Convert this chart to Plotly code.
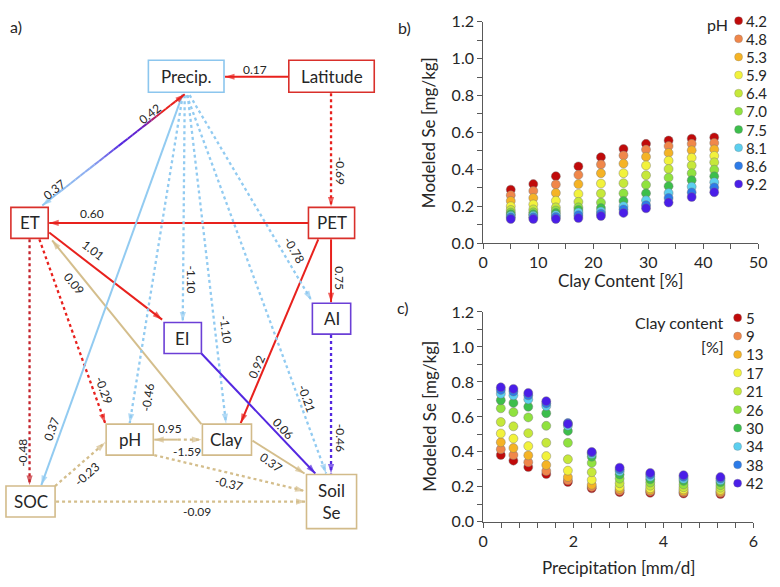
import math
import plotly.graph_objects as go

# ---------------- data: panel b (Se vs clay content, one series per pH) ----------------
clay_x = [5, 9.1, 13.2, 17.3, 21.4, 25.5, 29.6, 33.7, 37.9, 42]
ph_levels = ["4.2", "4.8", "5.3", "5.9", "6.4", "7.0", "7.5", "8.1", "8.6", "9.2"]
se_ph_4_2 = [0.290, 0.320, 0.363, 0.416, 0.466, 0.510, 0.538, 0.556, 0.566, 0.573]
se_ph_4_8 = [0.260, 0.283, 0.318, 0.370, 0.426, 0.475, 0.507, 0.526, 0.538, 0.543]
se_ph_5_3 = [0.229, 0.245, 0.272, 0.320, 0.379, 0.431, 0.468, 0.489, 0.503, 0.508]
se_ph_5_9 = [0.200, 0.210, 0.230, 0.267, 0.323, 0.379, 0.421, 0.447, 0.463, 0.473]
se_ph_6_4 = [0.180, 0.183, 0.194, 0.224, 0.269, 0.325, 0.368, 0.402, 0.421, 0.438]
se_ph_7_0 = [0.166, 0.167, 0.177, 0.194, 0.220, 0.270, 0.316, 0.355, 0.379, 0.398]
se_ph_7_5 = [0.157, 0.157, 0.163, 0.180, 0.190, 0.229, 0.270, 0.309, 0.341, 0.362]
se_ph_8_1 = [0.148, 0.148, 0.152, 0.166, 0.172, 0.200, 0.232, 0.272, 0.306, 0.330]
se_ph_8_6 = [0.140, 0.140, 0.142, 0.152, 0.160, 0.183, 0.206, 0.245, 0.275, 0.302]
se_ph_9_2 = [0.131, 0.131, 0.131, 0.136, 0.147, 0.164, 0.189, 0.220, 0.250, 0.276]
se_by_ph = [se_ph_4_2, se_ph_4_8, se_ph_5_3, se_ph_5_9, se_ph_6_4,
            se_ph_7_0, se_ph_7_5, se_ph_8_1, se_ph_8_6, se_ph_9_2]

# ---------------- data: panel c (Se vs precipitation, one series per clay class) ----------------
precip_x = [0.39, 0.67, 1.0, 1.4, 1.88, 2.41, 3.03, 3.71, 4.45, 5.27]
clay_levels = ["5", "9", "13", "17", "21", "26", "30", "34", "38", "42"]
se_clay_5 = [0.382, 0.350, 0.313, 0.273, 0.228, 0.192, 0.170, 0.166, 0.162, 0.159]
se_clay_9 = [0.415, 0.382, 0.341, 0.291, 0.238, 0.200, 0.178, 0.174, 0.169, 0.166]
se_clay_13 = [0.455, 0.422, 0.380, 0.325, 0.256, 0.212, 0.188, 0.181, 0.176, 0.173]
se_clay_17 = [0.505, 0.476, 0.433, 0.376, 0.293, 0.240, 0.201, 0.192, 0.186, 0.183]
se_clay_21 = [0.571, 0.546, 0.507, 0.452, 0.358, 0.284, 0.221, 0.207, 0.198, 0.195]
se_clay_26 = [0.649, 0.627, 0.597, 0.549, 0.452, 0.337, 0.247, 0.225, 0.214, 0.210]
se_clay_30 = [0.695, 0.680, 0.658, 0.621, 0.520, 0.372, 0.271, 0.243, 0.234, 0.226]
se_clay_34 = [0.732, 0.723, 0.700, 0.662, 0.550, 0.388, 0.289, 0.258, 0.246, 0.238]
se_clay_38 = [0.754, 0.745, 0.723, 0.677, 0.565, 0.396, 0.300, 0.270, 0.258, 0.248]
se_clay_42 = [0.769, 0.760, 0.737, 0.690, 0.560, 0.400, 0.310, 0.280, 0.267, 0.256]
se_by_clay = [se_clay_5, se_clay_9, se_clay_13, se_clay_17, se_clay_21,
              se_clay_26, se_clay_30, se_clay_34, se_clay_38, se_clay_42]

# ---------------- data: panel a (path coefficients) ----------------
path_coefs = ["0.17", "-0.69", "0.60", "0.75", "0.92", "1.01", "-0.48", "-0.29", "0.09",
              "0.37", "-1.10", "-0.46", "-1.10", "-0.78", "-0.21", "-0.46", "0.06",
              "0.95", "-1.59", "0.37", "-0.37", "-0.23", "-0.09"]
feedback_coefs = ["0.42", "0.37"]   # ET -> Precip, Precip -> ET

palette = ["#C00A0A", "#F0874A", "#F5B325", "#F2F23C", "#C6E83A",
           "#90E23F", "#3CBE4B", "#5CCFEF", "#2C7BE8", "#4A1EE8"]

FONT = "Lato"
TXT = "#262626"
AX = "#595959"

fig = go.Figure()

# ---------------- scatter panels ----------------
for i, lvl in enumerate(ph_levels):
    fig.add_trace(go.Scatter(
        x=clay_x, y=se_by_ph[i], mode="markers", name=lvl, showlegend=False,
        marker=dict(size=9, color=palette[i], line=dict(color="rgba(120,120,120,0.55)", width=0.8)),
        xaxis="x", yaxis="y"))

for i, lvl in enumerate(clay_levels):
    fig.add_trace(go.Scatter(
        x=precip_x, y=se_by_clay[i], mode="markers", name=lvl, showlegend=False,
        marker=dict(size=9, color=palette[i], line=dict(color="rgba(120,120,120,0.55)", width=0.8)),
        xaxis="x2", yaxis="y2"))

# ---------------- path diagram (drawn on a pixel-scaled overlay axis x3/y3) ----------------
RED, DRED, BLUE, PURP, TAN = "#E8211D", "#C4232B", "#92CBF1", "#5428E0", "#D4BE8C"

nodes = [  # label, x0, y0, x1, y1, border colour
    ("Precip.", 146, 52, 223, 85, "#8CC6EE"),
    ("Latitude", 289, 52, 376, 85, "#D9302B"),
    ("ET", 6, 204, 44, 236, "#D9302B"),
    ("PET", 309, 204, 356, 236, "#D9302B"),
    ("AI", 313, 303, 352, 335, "#6B3FD6"),
    ("EI", 162, 323, 200, 355, "#6B3FD6"),
    ("pH", 103, 428, 151, 460, "#D2BB8A"),
    ("Clay", 201, 428, 251, 460, "#D2BB8A"),
    ("SOC", 1, 492, 51, 524, "#D2BB8A"),
    ("Soil<br>Se", 307, 480, 358, 536, "#D2BB8A"),
]

links = [  # x0, y0, x1, y1, colour, dash, label x, label y, label angle
    (289, 69, 224, 69, RED, "solid", 255, 61, 0),
    (332, 86, 332, 203, RED, "dot", 341, 166, 90),
    (309, 220, 45, 220, RED, "solid", 89, 210, 0),
    (332, 237, 332, 302, RED, "solid", 341, 277, 90),
    (319, 237, 240, 427, RED, "solid", 256, 368, -67),
    (45, 230, 160, 320, RED, "solid", 90, 249, 38),
    (25, 237, 25, 491, DRED, "dot", 17, 458, -90),
    (35, 237, 102, 427, RED, "dot", 101, 393, 70),
    (200, 428, 48, 238, TAN, "solid", 70, 283, 51),
    (181, 87, 37, 491, BLUE, "solid", 48, 433, -70),
    (183, 88, 181, 322, BLUE, "dot", 190, 278, 90),
    (181, 88, 127, 427, BLUE, "dot", 145, 400, -81),
    (186, 88, 225, 427, BLUE, "dot", 225, 330, 83),
    (188, 88, 312, 300, BLUE, "dot", 294, 248, 60),
    (185, 88, 327, 479, BLUE, "dot", 307, 402, 70),
    (332, 336, 332, 479, PURP, "dot", 341, 442, 90),
    (200, 355, 316, 479, PURP, "solid", 283, 433, 47),
    (176, 444, 152, 444, TAN, "solid", 168, 433, 0),
    (176, 444, 200, 444, TAN, "dot", 185, 456, 0),
    (252, 445, 305, 479, TAN, "solid", 271, 468, 35),
    (152, 460, 305, 497, TAN, "dot", 228, 489, 14),
    (51, 492, 102, 447, TAN, "dot", 83, 480, -41),
    (52, 508, 306, 508, TAN, "dot", 195, 518, 0),
]


def label(x, y, text, angle=0, size=12):
    fig.add_annotation(x=x, y=y, xref="x3", yref="y3", text=text, showarrow=False,
                       textangle=angle, font=dict(family=FONT, size=size, color=TXT))


def head(x0, y0, x1, y1, color):
    # arrow marker whose tip sits on the end point, rotated along the segment
    d = math.hypot(x1 - x0, y1 - y0)
    fig.add_trace(go.Scatter(
        x=[x1 - (x1 - x0) / d * 3, x1], y=[y1 - (y1 - y0) / d * 3, y1], mode="markers",
        showlegend=False, hoverinfo="skip",
        marker=dict(symbol="arrow", size=[0, 10], angleref="previous", color=color,
                    line=dict(width=0)),
        xaxis="x3", yaxis="y3"))


for (x0, y0, x1, y1, col, dash, lx, ly, ang), coef in zip(links, path_coefs):
    fig.add_trace(go.Scatter(x=[x0, x1], y=[y0, y1], mode="lines", showlegend=False,
                             hoverinfo="skip",
                             line=dict(color=col, width=2.3 if dash == "dot" else 2, dash=dash),
                             xaxis="x3", yaxis="y3"))
    head(x0, y0, x1, y1, col)
    label(lx, ly, coef, ang)

# ET <-> Precip feedback, colour fades blue -> purple -> red
gx0, gy0, gx1, gy1 = 38, 202, 183, 87
stops = [(0.0, (146, 203, 241)), (0.35, (140, 170, 240)), (0.55, (84, 40, 224)),
         (0.7, (100, 30, 200)), (0.85, (232, 33, 29)), (1.0, (232, 33, 29))]


def grad(t):
    for (t0, c0), (t1, c1) in zip(stops[:-1], stops[1:]):
        if t <= t1:
            f = (t - t0) / (t1 - t0)
            return "rgb(%d,%d,%d)" % tuple(round(a + (b - a) * f) for a, b in zip(c0, c1))
    return "rgb(232,33,29)"


nseg = 30
for k in range(nseg):
    t0, t1 = k / nseg, (k + 1) / nseg
    fig.add_trace(go.Scatter(
        x=[gx0 + (gx1 - gx0) * t0, gx0 + (gx1 - gx0) * t1],
        y=[gy0 + (gy1 - gy0) * t0, gy0 + (gy1 - gy0) * t1],
        mode="lines", showlegend=False, hoverinfo="skip",
        line=dict(color=grad((t0 + t1) / 2), width=2), xaxis="x3", yaxis="y3"))
head(gx0, gy0, gx1, gy1, RED)
head(gx1, gy1, gx0, gy0, BLUE)
label(148, 107, feedback_coefs[0], -38)
label(50, 185, feedback_coefs[1], -38)

# boxes
for name, x0, y0, x1, y1, col in nodes:
    fig.add_shape(type="rect", x0=x0, y0=y0, x1=x1, y1=y1, xref="x3", yref="y3",
                  line=dict(color=col, width=1.6), fillcolor="white", layer="above")
    label((x0 + x1) / 2, (y0 + y1) / 2, name, 0, 17)

# ---------------- manual legends ----------------
fig.add_trace(go.Scatter(
    x=[747] * 10, y=[11 + 18.75 * i for i in range(10)], mode="markers", showlegend=False,
    hoverinfo="skip", marker=dict(size=8, color=palette, line=dict(color="rgba(120,120,120,0.5)", width=0.6)),
    xaxis="x3", yaxis="y3"))
for i, lvl in enumerate(ph_levels):
    fig.add_annotation(x=753, y=11 + 18.75 * i, xref="x3", yref="y3", text=lvl, showarrow=False,
                       xanchor="left", font=dict(family=FONT, size=15, color=TXT))
fig.add_annotation(x=738, y=15, xref="x3", yref="y3", text="pH", showarrow=False,
                   xanchor="right", font=dict(family=FONT, size=16, color=TXT))

fig.add_trace(go.Scatter(
    x=[746] * 10, y=[318 + 19 * i for i in range(10)], mode="markers", showlegend=False,
    hoverinfo="skip", marker=dict(size=8, color=palette, line=dict(color="rgba(120,120,120,0.5)", width=0.6)),
    xaxis="x3", yaxis="y3"))
for i, lvl in enumerate(clay_levels):
    fig.add_annotation(x=752, y=318 + 19 * i, xref="x3", yref="y3", text=lvl, showarrow=False,
                       xanchor="left", font=dict(family=FONT, size=15, color=TXT))
fig.add_annotation(x=734, y=323, xref="x3", yref="y3", text="Clay content", showarrow=False,
                   xanchor="right", font=dict(family=FONT, size=16, color=TXT))
fig.add_annotation(x=734, y=348, xref="x3", yref="y3", text="[%]", showarrow=False,
                   xanchor="right", font=dict(family=FONT, size=16, color=TXT))

# panel letters and axis titles
for txt, x, y in [("a)", 11, 17), ("b)", 407, 18), ("c)", 405, 307)]:
    label(x, y, txt, 0, 16)
label(432, 127, "Modeled Se [mg/kg]", -90, 17)
label(432, 420, "Modeled Se [mg/kg]", -90, 17)
label(627, 280, "Clay Content [%]", 0, 17)
label(625, 576, "Precipitation [mm/d]", 0, 17)

# ---------------- axes ----------------
W, H = 780, 587
common = dict(showline=True, linecolor=AX, linewidth=1.2, ticks="outside", ticklen=5,
              tickcolor=AX, showgrid=False, zeroline=False, fixedrange=True,
              tickfont=dict(family=FONT, size=16, color=TXT))

fig.update_layout(
    width=W, height=H, margin=dict(l=0, r=0, t=0, b=0),
    paper_bgcolor="white", plot_bgcolor="rgba(0,0,0,0)", showlegend=False,
    xaxis=dict(domain=[487 / W, 767 / W], range=[0, 50], dtick=10, anchor="y",
               minor=dict(dtick=5, ticks="outside", ticklen=5, tickcolor=AX), **common),
    yaxis=dict(domain=[(H - 241) / H, (H - 12) / H], range=[0, 1.2], dtick=0.2, tickformat=".1f",
               anchor="x", minor=dict(dtick=0.1, ticks="outside", ticklen=5, tickcolor=AX), **common),
    xaxis2=dict(domain=[487 / W, 762 / W], range=[0, 6], dtick=2, anchor="y2",
                minor=dict(dtick=0.4, ticks="outside", ticklen=5, tickcolor=AX), **common),
    yaxis2=dict(domain=[(H - 529) / H, (H - 312) / H], range=[0, 1.2], dtick=0.2, tickformat=".1f",
                anchor="x2", minor=dict(dtick=0.1, ticks="outside", ticklen=5, tickcolor=AX), **common),
    xaxis3=dict(domain=[0, 1], range=[0, W], visible=False, fixedrange=True, anchor="y3"),
    yaxis3=dict(domain=[0, 1], range=[H, 0], visible=False, fixedrange=True, anchor="x3"),
)

# the page's default body margin would push the 780x587 figure off the window edge
fig.write_html("out.html", config={"displayModeBar": False},
               post_script="document.body.style.margin='0';"
                           "document.documentElement.style.overflow='hidden';")
